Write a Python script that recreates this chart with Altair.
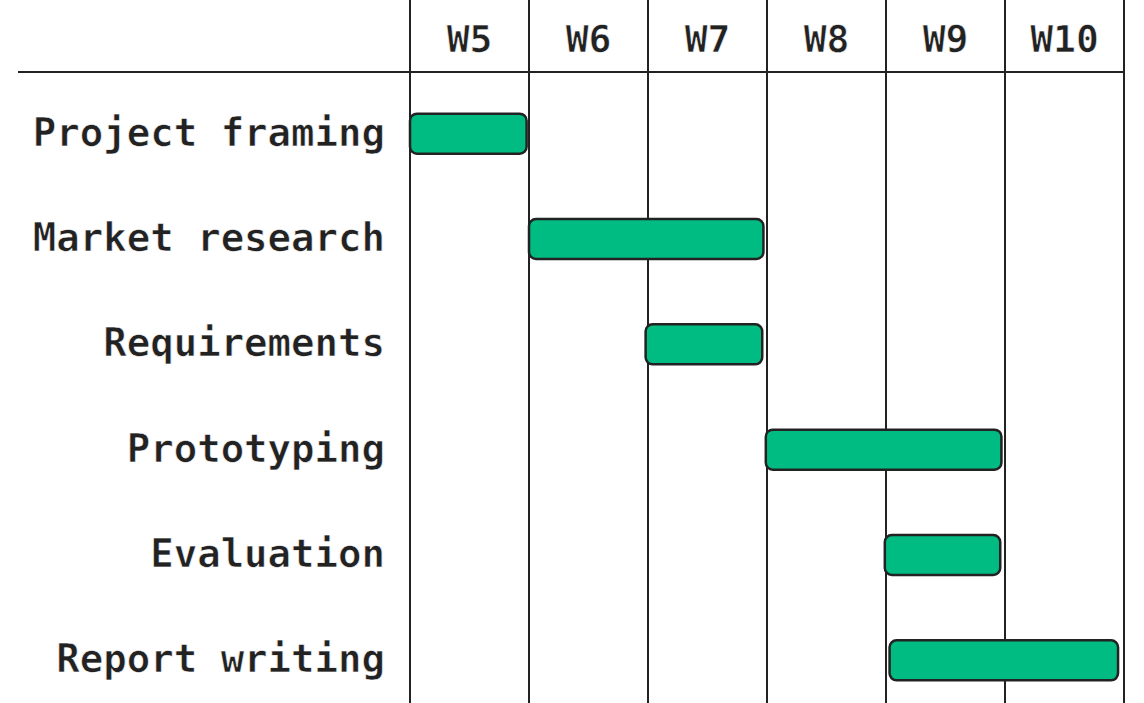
import altair as alt
import pandas as pd

tasks = ["Project framing", "Market research", "Requirements", "Prototyping", "Evaluation", "Report writing"]
start_week = [5.0, 6.0, 6.98, 7.99, 8.99, 9.03]
end_week = [5.98, 7.97, 7.96, 9.97, 9.96, 10.95]
week_labels = ["W5", "W6", "W7", "W8", "W9", "W10"]
week_numbers = [5, 6, 7, 8, 9, 10]
boundaries = [5, 6, 7, 8, 9, 10, 11]

FONT = "DejaVu Sans Mono"
INK = "#222222"

bars_df = pd.DataFrame({"task": tasks, "start": start_week, "end": end_week})
head_df = pd.DataFrame({"label": week_labels, "mid": [w + 0.5 for w in week_numbers]})
grid_df = pd.DataFrame({"b": boundaries})

xscale = alt.Scale(domain=[5, 11], nice=False, zero=False)
yscale = alt.Scale(domain=tasks, range=[9, 641], paddingInner=0, paddingOuter=0)

grid = alt.Chart(grid_df).mark_rule(color=INK, strokeWidth=2).encode(
    x=alt.X("b:Q", scale=xscale, axis=None),
    y=alt.value(-72),
    y2=alt.value(631),
)

hline = alt.Chart(grid_df).mark_rule(color=INK, strokeWidth=2).encode(
    x=alt.value(-392),
    x2=alt.value(714),
    y=alt.value(0),
)

header = alt.Chart(head_df).mark_text(
    font=FONT, fontSize=38, fontWeight="bold", color=INK, baseline="alphabetic", align="center",
    stroke="white", strokeWidth=0.6
).encode(
    x=alt.X("mid:Q", scale=xscale, axis=None),
    y=alt.value(-20),
    text="label:N",
)

labels = alt.Chart(bars_df).mark_text(
    font=FONT, fontSize=39, fontWeight="bold", color=INK, baseline="middle", align="right",
    stroke="white", strokeWidth=0.6, dx=-25
).encode(
    x=alt.value(0),
    y=alt.Y("task:N", scale=yscale, sort=tasks, axis=None),
    text="task:N",
)

bars = alt.Chart(bars_df).mark_bar(
    height=40, cornerRadius=7, color="#00BC82", stroke=INK, strokeWidth=2.5
).encode(
    x=alt.X("start:Q", scale=xscale, axis=None),
    x2="end:Q",
    y=alt.Y("task:N", scale=yscale, sort=tasks, axis=None),
)

chart = alt.layer(grid, hline, header, labels, bars).properties(
    width=714,
    height=631,
    padding={"left": 410, "top": 72, "right": 20, "bottom": 0},
    autosize=alt.AutoSizeParams(type="none"),
    background="white",
).configure_view(stroke=None)

chart.save("out.html", embed_options={"renderer": "svg", "actions": False})
